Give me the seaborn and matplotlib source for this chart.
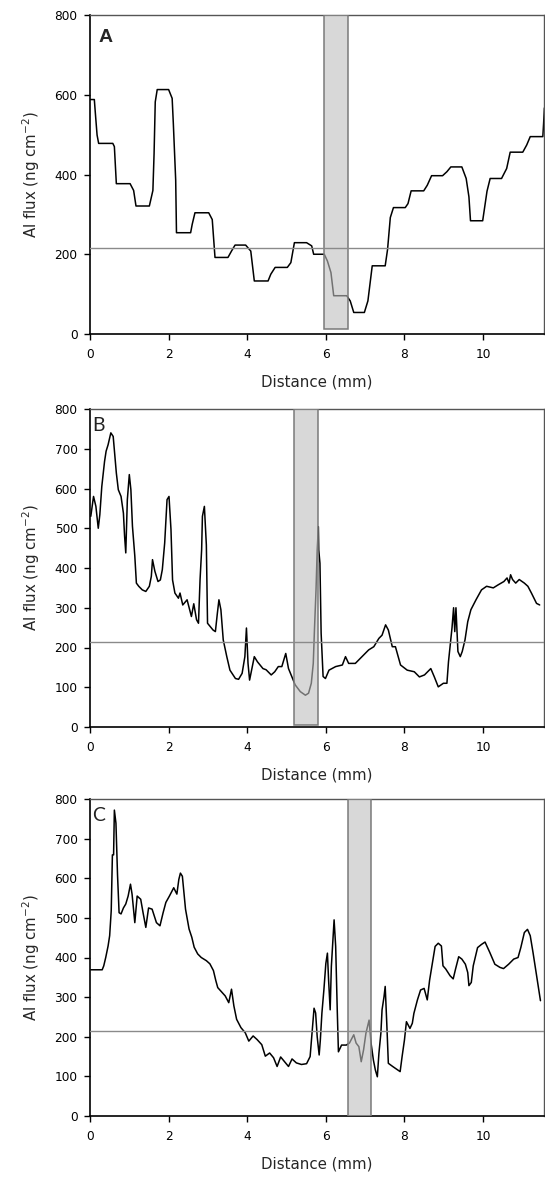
import matplotlib
matplotlib.use("Agg")
import matplotlib.pyplot as plt
import seaborn as sns
import pandas as pd
from matplotlib.patches import Rectangle

# ---- data -------------------------------------------------------------
a_dist = [0.00, 0.11, 0.14, 0.18, 0.22, 0.58, 0.62, 0.67, 1.02, 1.11, 1.17, 1.51, 1.60,
          1.63, 1.66, 1.71, 2.00, 2.09, 2.12, 2.18, 2.20, 2.56, 2.60, 2.67, 3.02, 3.11,
          3.18, 3.51, 3.60, 3.69, 3.96, 4.09, 4.18, 4.53, 4.60, 4.71, 5.02, 5.11, 5.20,
          5.51, 5.64, 5.69, 5.96, 6.04, 6.13, 6.20, 6.53, 6.62, 6.71, 6.98, 7.07, 7.18,
          7.51, 7.57, 7.64, 7.72, 8.02, 8.09, 8.17, 8.49, 8.58, 8.69, 8.97, 9.08, 9.18,
          9.46, 9.57, 9.64, 9.68, 9.99, 10.10, 10.18, 10.47, 10.60, 10.69, 11.01, 11.11,
          11.20, 11.52, 11.54, 11.56]
a_flux = [588, 588, 549, 499, 478, 478, 470, 377, 377, 360, 321, 321, 360,
          452, 582, 613, 613, 591, 528, 386, 254, 254, 275, 304, 304, 287,
          192, 192, 208, 223, 223, 208, 133, 133, 150, 167, 167, 179, 229,
          229, 221, 200, 200, 183, 154, 96, 96, 83, 54, 54, 83, 171,
          171, 212, 292, 317, 317, 327, 359, 359, 373, 397, 397, 407, 419,
          419, 390, 344, 284, 284, 358, 390, 390, 415, 456, 456, 474,
          495, 495, 528, 567]

b_dist = [0.02, 0.09, 0.15, 0.21, 0.25, 0.30, 0.37, 0.41, 0.46, 0.53, 0.59, 0.63, 0.67,
          0.72, 0.79, 0.85, 0.88, 0.91, 0.95, 1.00, 1.04, 1.08, 1.14, 1.18, 1.24, 1.33,
          1.42, 1.51, 1.56, 1.59, 1.65, 1.73, 1.79, 1.84, 1.90, 1.96, 2.01, 2.06, 2.10,
          2.16, 2.25, 2.29, 2.36, 2.47, 2.58, 2.64, 2.71, 2.76, 2.80, 2.84, 2.86, 2.91,
          2.96, 2.99, 3.13, 3.19, 3.24, 3.28, 3.33, 3.39, 3.48, 3.56, 3.70, 3.78, 3.87,
          3.94, 3.98, 4.02, 4.06, 4.18, 4.26, 4.40, 4.48, 4.61, 4.70, 4.79, 4.88, 4.98,
          5.05, 5.10, 5.22, 5.35, 5.48, 5.56, 5.63, 5.68, 5.71, 5.75, 5.78, 5.81, 5.82,
          5.85, 5.88, 5.93, 5.99, 6.08, 6.25, 6.42, 6.50, 6.58, 6.75, 6.92, 7.09, 7.22,
          7.35, 7.43, 7.52, 7.59, 7.69, 7.77, 7.90, 8.07, 8.25, 8.38, 8.51, 8.67, 8.76,
          8.86, 8.99, 9.08, 9.12, 9.21, 9.25, 9.28, 9.31, 9.36, 9.42, 9.47, 9.54, 9.61,
          9.69, 9.82, 9.96, 10.09, 10.26, 10.39, 10.53, 10.61, 10.66, 10.70, 10.75,
          10.83, 10.92, 11.05, 11.14, 11.23, 11.36, 11.44]
b_flux = [530, 580, 555, 500, 534, 605, 668, 694, 710, 740, 731, 685, 639,
          597, 580, 538, 480, 438, 572, 635, 597, 505, 430, 362, 354, 345,
          341, 354, 379, 421, 392, 366, 370, 396, 463, 572, 580, 497, 370,
          337, 324, 337, 307, 320, 278, 310, 270, 261, 371, 446, 530, 555,
          458, 261, 244, 240, 286, 320, 295, 219, 177, 143, 122, 120, 135,
          177, 249, 160, 118, 177, 164, 147, 144, 131, 139, 152, 152, 185,
          147, 135, 106, 89, 80, 85, 110, 160, 244, 345, 445, 504, 445,
          412, 236, 127, 122, 143, 152, 156, 177, 160, 160, 177, 194, 202,
          223, 231, 257, 244, 202, 202, 156, 143, 139, 126, 131, 147, 126,
          101, 110, 110, 164, 250, 300, 240, 300, 190, 177, 190, 219, 265,
          295, 320, 345, 354, 350, 358, 366, 375, 362, 383, 371,
          362, 371, 362, 354, 337, 311, 307]

c_dist = [0.02, 0.31, 0.35, 0.40, 0.46, 0.50, 0.54, 0.57, 0.60, 0.62, 0.66, 0.70, 0.74,
          0.79, 0.85, 0.91, 0.97, 1.03, 1.07, 1.14, 1.20, 1.29, 1.35, 1.42, 1.49, 1.58,
          1.69, 1.78, 1.86, 1.93, 2.02, 2.13, 2.21, 2.26, 2.30, 2.35, 2.39, 2.43, 2.52,
          2.59, 2.65, 2.74, 2.83, 2.96, 3.05, 3.14, 3.20, 3.25, 3.36, 3.44, 3.53, 3.60,
          3.66, 3.73, 3.84, 3.95, 4.04, 4.15, 4.25, 4.37, 4.46, 4.57, 4.67, 4.76, 4.85,
          4.94, 5.05, 5.14, 5.25, 5.38, 5.51, 5.60, 5.66, 5.70, 5.74, 5.78, 5.83, 5.86,
          5.90, 5.95, 6.00, 6.04, 6.07, 6.11, 6.14, 6.17, 6.21, 6.25, 6.29, 6.32, 6.40,
          6.52, 6.60, 6.71, 6.77, 6.84, 6.90, 6.96, 7.02, 7.10, 7.15, 7.21, 7.26, 7.31,
          7.35, 7.40, 7.43, 7.48, 7.51, 7.55, 7.59, 7.70, 7.83, 7.89, 7.94, 8.00, 8.05,
          8.14, 8.20, 8.24, 8.33, 8.41, 8.50, 8.58, 8.64, 8.71, 8.78, 8.86, 8.94, 8.98,
          9.05, 9.16, 9.24, 9.30, 9.38, 9.46, 9.55, 9.61, 9.64, 9.70, 9.75, 9.86, 9.96,
          10.05, 10.17, 10.30, 10.43, 10.52, 10.65, 10.78, 10.89, 10.96, 11.05, 11.13,
          11.20, 11.27, 11.35, 11.40, 11.46]
c_flux = [369, 369, 379, 400, 429, 455, 518, 659, 659, 772, 739, 609, 513,
          510, 525, 535, 555, 585, 560, 488, 555, 547, 513, 476, 525, 522,
          488, 480, 513, 539, 555, 576, 560, 597, 613, 605, 563, 522, 472,
          451, 426, 409, 400, 392, 384, 367, 342, 324, 312, 303, 286, 320,
          278, 244, 223, 210, 189, 202, 193, 180, 151, 159, 147, 125, 149,
          138, 125, 144, 134, 130, 132, 150, 225, 272, 260, 200, 154, 192,
          260, 318, 385, 411, 343, 268, 377, 428, 495, 428, 268, 162, 179,
          179, 184, 205, 184, 175, 137, 167, 209, 242, 184, 141, 116, 99,
          158, 209, 268, 301, 327, 234, 133, 125, 116, 112, 150, 192, 238,
          221, 234, 259, 293, 318, 322, 293, 343, 385, 428, 436, 429, 379,
          371, 354, 346, 371, 402, 396, 383, 362, 329, 337, 379, 425, 433,
          439, 413, 383, 375, 372, 383, 396, 400, 425, 463, 471,
          455, 413, 362, 329, 291]

panel_letters = ["A", "B", "C"]
band_spans = [(5.95, 6.56), (5.20, 5.81), (6.57, 7.15)]
band_floor = [12, 5, 0]
threshold = 215
x_ticks = [0, 2, 4, 6, 8, 10]
y_ticks_a = [0, 200, 400, 600, 800]
y_ticks_bc = [0, 100, 200, 300, 400, 500, 600, 700, 800]

# ---- styling ----------------------------------------------------------
sns.set_style("ticks")
plt.rcParams["font.family"] = ["DejaVu Sans"]
plt.rcParams["mathtext.default"] = "regular"

fig = plt.figure(figsize=(5.45, 11.78), dpi=100)
W, H = 545.0, 1178.0
left_px, right_px = 90, 544
rows_px = [(15, 334), (409, 727), (799, 1116)]

series = [(a_dist, a_flux), (b_dist, b_flux), (c_dist, c_flux)]

for i, (top, bottom) in enumerate(rows_px):
    ax = fig.add_axes([left_px / W, 1 - bottom / H,
                       (right_px - left_px) / W, (bottom - top) / H])
    dist, flux = series[i]
    df = pd.DataFrame({"Distance (mm)": dist, "Al flux": flux})
    sns.lineplot(data=df, x="Distance (mm)", y="Al flux", ax=ax, color="black",
                 linewidth=1.1, sort=False, estimator=None, zorder=2)

    x0, x1 = band_spans[i]
    ax.add_patch(Rectangle((x0, band_floor[i]), x1 - x0, 800 - band_floor[i],
                           facecolor=(0.75, 0.75, 0.75, 0.6),
                           edgecolor="#7a7a7a", linewidth=1.1, zorder=3))
    ax.axhline(threshold, color="#8a8a8a", linewidth=1.0, zorder=4)

    ax.set_xlim(0, 11.55)
    ax.set_ylim(0, 800)
    ax.set_xticks(x_ticks)
    ax.set_yticks(y_ticks_a if i == 0 else y_ticks_bc)
    ax.tick_params(axis="both", direction="out", length=4, width=1.0,
                   labelsize=8.7, pad=5, colors="black")
    ax.tick_params(axis="x", pad=6)
    for side in ["left", "bottom"]:
        ax.spines[side].set_linewidth(1.2)
        ax.spines[side].set_color("black")
    for side in ["top", "right"]:
        ax.spines[side].set_visible(True)
        ax.spines[side].set_linewidth(1.0)
        ax.spines[side].set_color("#555555")

    ax.set_xlabel("Distance (mm)", fontsize=10.8, labelpad=10)
    ax.set_ylabel("Al flux (ng cm$^{-2}$)", fontsize=10.8, labelpad=9)

    if i == 0:
        ax.text(0.018, 0.955, panel_letters[i], transform=ax.transAxes,
                fontsize=14, fontweight="bold", va="top", ha="left",
                family=["Liberation Sans", "DejaVu Sans"])
    else:
        ax.text(0.005, 0.975, panel_letters[i], transform=ax.transAxes,
                fontsize=14, family=["Lato", "DejaVu Sans"], color="#222222",
                va="top", ha="left")

fig.savefig("out.png", dpi=100)
